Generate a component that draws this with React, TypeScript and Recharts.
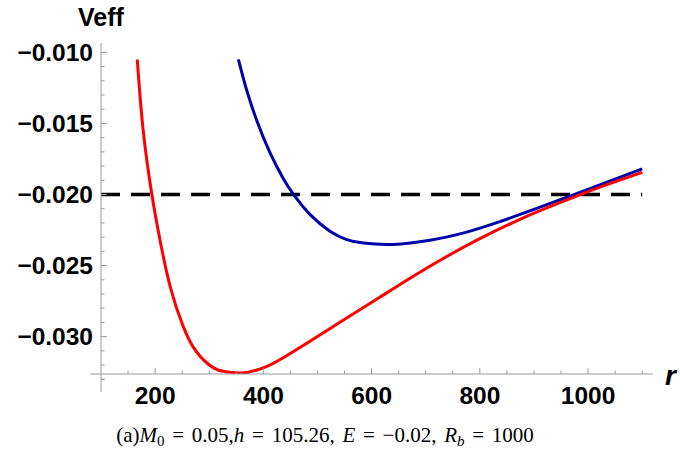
import React from 'react';
import { LineChart, Line, XAxis, YAxis, ReferenceLine } from 'recharts';

// Red curve (r, Veff)
const redR = [167, 178, 194, 209, 228, 252, 277, 308, 328, 348, 372, 400, 431, 492, 554, 615, 677, 738, 800, 862, 920, 980, 1040, 1100];
const redV = [-0.0105, -0.0155, -0.0200, -0.0232, -0.0265, -0.0293, -0.0311, -0.0322, -0.03245, -0.03255, -0.0325, -0.0322, -0.03161, -0.03018, -0.02869, -0.02723, -0.02575, -0.02438, -0.02311, -0.02196, -0.0210, -0.02009, -0.01924, -0.01844];

// Blue curve (r, Veff)
const blueR = [354, 369, 388, 412, 437, 458, 486, 523, 554, 585, 640, 708, 769, 830, 900, 985, 1100];
const blueV = [-0.0105, -0.01263, -0.01481, -0.01704, -0.01889, -0.02012, -0.02140, -0.02258, -0.02317, -0.02342, -0.02351, -0.02322, -0.02272, -0.02200, -0.02105, -0.01985, -0.0182];

// Energy level E
const energyR = [100, 1100];
const energyV = [-0.02, -0.02];

const xTicks = [150, 200, 250, 300, 350, 400, 450, 500, 550, 600, 650, 700, 750, 800, 850, 900, 950, 1000, 1050, 1100];
const yTicks = [-0.033, -0.032, -0.031, -0.030, -0.029, -0.028, -0.027, -0.026, -0.025, -0.024, -0.023, -0.022, -0.021, -0.020, -0.019, -0.018, -0.017, -0.016, -0.015, -0.014, -0.013, -0.012, -0.011, -0.010];

const xDomain = [100, 1120];
const yDomain = [-0.03263, -0.00934];

const redData = redR.map((r, i) => ({ r, v: redV[i] }));
const blueData = blueR.map((r, i) => ({ r, v: blueV[i] }));
const energyData = energyR.map((r, i) => ({ r, v: energyV[i] }));

const AXIS = '#9a9a9a';
const LABEL_FONT = '"Liberation Sans", Arial, sans-serif';

const XTick = (props: any) => {
  const { x, y, payload } = props;
  const v = payload.value;
  const major = v % 200 === 0;
  return (
    <g>
      <line x1={x} y1={y} x2={x} y2={y - (major ? 6 : 3.5)} stroke={AXIS} strokeWidth={1} />
      {major && (
        <text x={x} y={y + 30} textAnchor="middle" fontFamily={LABEL_FONT} fontWeight="bold" fontSize={24.5} fill="#000">
          {String(v)}
        </text>
      )}
    </g>
  );
};

const YTick = (props: any) => {
  const { x, y, payload } = props;
  const v = payload.value;
  const major = Math.round(v * 1000) % 5 === 0;
  return (
    <g>
      <line x1={x} y1={y} x2={x + (major ? 6 : 3.5)} y2={y} stroke={AXIS} strokeWidth={1} />
      {major && (
        <text x={x - 8} y={y + 8.7} textAnchor="end" fontFamily={LABEL_FONT} fontWeight="bold" fontSize={24.5} fill="#000">
          {'\u2212' + Math.abs(v).toFixed(3)}
        </text>
      )}
    </g>
  );
};

export default function App() {
  return (
    <div style={{ position: 'absolute', left: 0, top: 0, width: 680, height: 451, background: '#fff' }}>
      <LineChart width={680} height={451} margin={{ top: 43, right: 27, bottom: 47, left: 41 }}>
        <XAxis
          type="number"
          dataKey="r"
          domain={xDomain}
          allowDataOverflow
          ticks={xTicks}
          interval={0}
          tickSize={0}
          tickMargin={0}
          tick={(p: any) => <XTick {...p} />}
          axisLine={{ stroke: AXIS, strokeWidth: 1 }}
          height={30}
        />
        <YAxis
          type="number"
          domain={yDomain}
          allowDataOverflow
          ticks={yTicks}
          interval={0}
          tickSize={0}
          tickMargin={0}
          tick={(p: any) => <YTick {...p} />}
          axisLine={{ stroke: AXIS, strokeWidth: 1 }}
          width={60}
        />
        <ReferenceLine segment={[{ x: 100, y: -0.03263 }, { x: 100, y: -0.0339 }]} stroke={AXIS} strokeWidth={1} ifOverflow="visible" />
        <ReferenceLine segment={[{ x: 80, y: -0.03263 }, { x: 100, y: -0.03263 }]} stroke={AXIS} strokeWidth={1} ifOverflow="visible" />
        <ReferenceLine segment={[{ x: 100, y: -0.033 }, { x: 106.5, y: -0.033 }]} stroke={AXIS} strokeWidth={1} ifOverflow="visible" />
        <Line data={energyData} dataKey="v" type="linear" stroke="#000" strokeWidth={3.5} strokeDasharray="19 11" dot={false} isAnimationActive={false} />
        <Line data={blueData} dataKey="v" type="natural" stroke="#0000A8" strokeWidth={3} dot={false} isAnimationActive={false} />
        <Line data={redData} dataKey="v" type="natural" stroke="#FF0000" strokeWidth={3} dot={false} isAnimationActive={false} />
      </LineChart>
      <svg width={680} height={451} style={{ position: 'absolute', left: 0, top: 0, pointerEvents: 'none' }}>
        <text x={101} y={26} textAnchor="middle" fontFamily={LABEL_FONT} fontWeight="bold" fontSize={25} fill="#000">Veff</text>
        <text x={665} y={385} fontFamily={LABEL_FONT} fontWeight="bold" fontStyle="italic" fontSize={28} fill="#000">r</text>
        <text x={325} y={442} textAnchor="middle" wordSpacing={2.5} fontFamily='"Liberation Serif", "Times New Roman", serif' fontSize={21} fill="#000">
          (a)<tspan fontStyle="italic">M</tspan><tspan dy={4} fontSize={15}>0</tspan><tspan dy={-4}> = 0.05,</tspan><tspan fontStyle="italic">h</tspan> = 105.26, <tspan fontStyle="italic">E</tspan> = {'\u2212'}0.02, <tspan fontStyle="italic">R</tspan><tspan dy={4} fontSize={15} fontStyle="italic">b</tspan><tspan dy={-4}> = 1000</tspan>
        </text>
      </svg>
    </div>
  );
}
